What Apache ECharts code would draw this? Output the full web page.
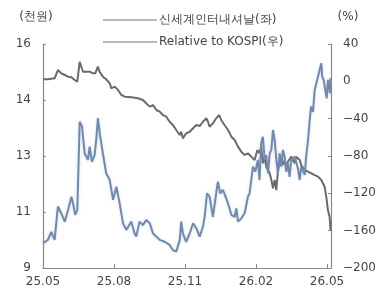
<!DOCTYPE html>
<html>
<head>
<meta charset="utf-8">
<script src="https://cdn.jsdelivr.net/npm/echarts@6/dist/echarts.min.js"></script>
<style>
  html, body { margin: 0; padding: 0; background: #fff; }
  #chart { width: 383px; height: 295px; }
</style>
</head>
<body>
<div id="chart"></div>
<script>
// x값 = 2025.05 기준 경과 개월수
var xTickLabels = ["25.05", "25.08", "25.11", "26.02", "26.05"];
var leftTickLabels = ["9", "11", "13", "14", "16"];
var leftUnit = "(천원)";
var rightUnit = "(%)";

// 신세계인터내셔날(좌), 천원
var stockMonths = [0.00, 0.21, 0.35, 0.42, 0.49, 0.63, 0.77, 0.92, 1.06, 1.20, 1.27, 1.36, 1.45, 1.55, 1.65, 1.76,
  1.90, 1.97, 2.07, 2.18, 2.25, 2.32, 2.42, 2.53, 2.67, 2.82, 2.96, 3.10, 3.24, 3.38, 3.52, 3.73, 3.87, 3.94,
  4.08, 4.22, 4.36, 4.51, 4.65, 4.79, 4.93, 5.14, 5.35, 5.49, 5.63, 5.78, 5.84, 5.91, 6.05, 6.20, 6.34, 6.48,
  6.62, 6.76, 6.83, 6.93, 7.04, 7.18, 7.30, 7.39, 7.49, 7.60, 7.74, 7.86, 7.96, 8.10, 8.17, 8.24, 8.38, 8.52,
  8.59, 8.66, 8.73, 8.80, 8.87, 8.97, 9.08, 9.15, 9.22, 9.29, 9.37, 9.43, 9.51, 9.58, 9.65, 9.72, 9.79, 9.86,
  9.93, 10.00, 10.07, 10.14, 10.21, 10.28, 10.35, 10.42, 10.49, 10.63, 10.77, 10.85, 10.91, 11.06, 11.12,
  11.20, 11.27, 11.33, 11.41, 11.48, 11.55, 11.62, 11.69, 11.76, 11.80, 11.86, 11.93, 11.99, 12.04, 12.08,
  12.13, 12.15];
var stockPrice = [9.78, 9.88, 10.13, 10.08, 9.88, 10.92, 10.71, 10.45, 10.81, 11.23, 11.02, 10.66, 10.81, 13.57,
  13.42, 12.58, 12.38, 12.79, 12.32, 12.53, 13.00, 13.68, 13.10, 12.58, 11.96, 11.75, 11.13, 11.54, 11.02,
  10.40, 10.19, 10.45, 10.08, 9.98, 10.45, 10.34, 10.50, 10.40, 10.08, 9.98, 9.88, 9.82, 9.72, 9.56, 9.51,
  9.88, 10.45, 10.08, 9.82, 10.08, 10.40, 10.24, 9.98, 10.29, 10.60, 11.33, 11.23, 10.60, 11.23, 11.70, 11.33,
  11.44, 11.18, 10.92, 10.66, 10.60, 10.86, 10.45, 10.55, 10.71, 10.97, 11.23, 11.33, 11.75, 12.17, 12.01,
  12.38, 11.75, 12.90, 13.10, 12.38, 12.53, 11.96, 12.58, 12.69, 13.31, 13.00, 12.38, 11.96, 12.58, 12.17,
  12.69, 12.48, 12.01, 12.27, 11.85, 12.38, 12.48, 12.12, 11.75, 12.17, 11.91, 12.48, 13.00, 13.63, 14.04,
  13.88, 14.56, 14.77, 14.98, 14.93, 15.40, 14.98, 14.88, 14.56, 14.30, 14.88, 14.82, 14.46, 14.93];

// Relative to KOSPI(우), %
var relMonths = [0.00, 0.21, 0.49, 0.63, 0.77, 0.92, 1.06, 1.20, 1.34, 1.45, 1.55, 1.62, 1.69, 1.83, 1.97, 2.11,
  2.21, 2.32, 2.39, 2.53, 2.67, 2.82, 2.89, 3.03, 3.17, 3.31, 3.45, 3.73, 4.01, 4.08, 4.22, 4.36, 4.51, 4.65,
  4.79, 4.93, 5.07, 5.21, 5.35, 5.49, 5.63, 5.78, 5.84, 5.91, 6.05, 6.20, 6.34, 6.48, 6.62, 6.76, 6.90, 6.97,
  7.04, 7.18, 7.32, 7.44, 7.53, 7.67, 7.82, 7.96, 8.10, 8.24, 8.38, 8.52, 8.66, 8.80, 8.94, 9.06, 9.15, 9.22,
  9.29, 9.37, 9.43, 9.51, 9.58, 9.65, 9.72, 9.79, 9.86, 9.93, 10.00, 10.07, 10.14, 10.21, 10.28, 10.35, 10.49,
  10.63, 10.70, 10.77, 10.85, 10.91, 11.06, 11.20, 11.33, 11.48, 11.62, 11.76, 11.90, 11.97, 12.04, 12.11,
  12.15];
var relKospi = [2.2, 2.2, 3.2, 12.1, 8.6, 6.8, 5.0, 4.3, 1.4, -0.4, 21.0, 19.3, 10.3, 10.3, 10.3, 8.6, 8.6, 15.7,
  10.3, 5.0, 2.2, -2.1, -7.5, -5.7, -9.3, -14.6, -16.5, -17.1, -18.2, -18.2, -20.0, -23.5, -27.1, -25.4, -30.7,
  -32.5, -36.1, -37.9, -43.3, -46.8, -52.1, -57.5, -54.0, -61.1, -55.7, -54.0, -50.3, -46.8, -47.9, -43.3,
  -39.6, -43.3, -48.6, -45.0, -39.6, -36.1, -41.4, -46.8, -52.1, -59.3, -62.9, -70.0, -75.4, -78.9, -77.1,
  -80.7, -84.3, -73.6, -77.1, -70.0, -87.8, -80.7, -91.4, -95.0, -98.5, -105.7, -114.6, -105.7, -116.4, -95.0,
  -87.8, -84.3, -89.6, -84.3, -91.4, -86.1, -80.7, -87.8, -80.7, -78.9, -84.3, -89.6, -95.0, -96.8, -98.5,
  -100.4, -102.1, -105.7, -112.9, -123.6, -137.9, -145.0, -159.3];

function pairs(xs, ys) {
  return xs.map(function (x, i) { return [x, ys[i]]; });
}

var myChart = echarts.init(document.getElementById("chart"));
var axisColor = "#888";
var labelStyle = { color: "#444", fontSize: 12, fontFamily: "DejaVu Sans" };

var option = {
  animation: false,
  backgroundColor: "#fff",
  textStyle: { fontFamily: "DejaVu Sans" },
  grid: { left: 43, right: 52, top: 44, bottom: 27 },
  // 단위 표시
  graphic: [
    {
      type: "text", x: 36, y: 17,
      style: { text: leftUnit, fill: "#444", fontSize: 12, fontFamily: "DejaVu Sans", align: "center", verticalAlign: "middle" }
    },
    {
      type: "text", x: 348, y: 17,
      style: { text: rightUnit, fill: "#444", fontSize: 12, fontFamily: "DejaVu Sans", align: "center", verticalAlign: "middle" }
    }
  ],
  legend: {
    orient: "vertical",
    left: 98,
    top: 9,
    itemWidth: 54,
    itemHeight: 10,
    itemGap: 10,
    icon: "path://M0,4.5L54,4.5L54,5.5L0,5.5Z",
    textStyle: { color: "#444", fontSize: 12, fontFamily: "DejaVu Sans", padding: [0, 0, 0, -3] },
    data: [
      { name: "신세계인터내셔날(좌)", itemStyle: { color: "#777" } },
      { name: "Relative to KOSPI(우)", itemStyle: { color: "#777" } }
    ]
  },
  xAxis: {
    type: "value",
    min: 0,
    max: 12.17,
    interval: 3,
    axisLine: { lineStyle: { color: axisColor, width: 1.2 } },
    axisTick: { inside: true, length: 4, lineStyle: { color: axisColor } },
    splitLine: { show: false },
    axisLabel: Object.assign({
      margin: 8,
      showMaxLabel: false,
      formatter: function (v) {
        var k = Math.round(v / 3);
        return Math.abs(v - k * 3) < 0.01 ? (xTickLabels[k] || "") : "";
      }
    }, labelStyle)
  },
  yAxis: [
    {
      // 좌측 눈금 (표시용)
      type: "value",
      position: "left",
      min: 0,
      max: 4,
      interval: 1,
      axisLine: { show: true, lineStyle: { color: axisColor, width: 1.2 } },
      axisTick: { show: true, inside: true, length: 3, lineStyle: { color: axisColor } },
      splitLine: { show: false },
      axisLabel: Object.assign({
        margin: 12,
        formatter: function (v, i) { return leftTickLabels[i]; }
      }, labelStyle)
    },
    {
      type: "value",
      position: "right",
      min: -200,
      max: 40,
      interval: 40,
      axisLine: { show: true, lineStyle: { color: axisColor, width: 1.2 } },
      axisTick: { show: true, inside: true, length: 3, lineStyle: { color: axisColor } },
      splitLine: { show: false },
      axisLabel: Object.assign({
        margin: 12,
        formatter: function (v) { return v < 0 ? "\u2212" + (-v) : String(v); }
      }, labelStyle)
    },
    {
      // 주가용 스케일 (9~16천원)
      type: "value",
      position: "left",
      min: 9,
      max: 16,
      show: false,
      splitLine: { show: false }
    }
  ],
  series: [
    {
      name: "신세계인터내셔날(좌)",
      type: "line",
      yAxisIndex: 2,
      data: pairs(stockMonths, stockPrice),
      symbol: "none",
      z: 3,
      lineStyle: { color: "#7389ab", width: 2, shadowColor: "rgba(120,150,200,0.35)", shadowBlur: 3 },
      itemStyle: { color: "#7389ab" }
    },
    {
      name: "Relative to KOSPI(우)",
      type: "line",
      yAxisIndex: 1,
      data: pairs(relMonths, relKospi),
      symbol: "none",
      z: 2,
      lineStyle: { color: "#6a6a6a", width: 2 },
      itemStyle: { color: "#6a6a6a" }
    }
  ]
};

option && myChart.setOption(option);
window.addEventListener("resize", function () {
  myChart.resize();
});
</script>
</body>
</html>
